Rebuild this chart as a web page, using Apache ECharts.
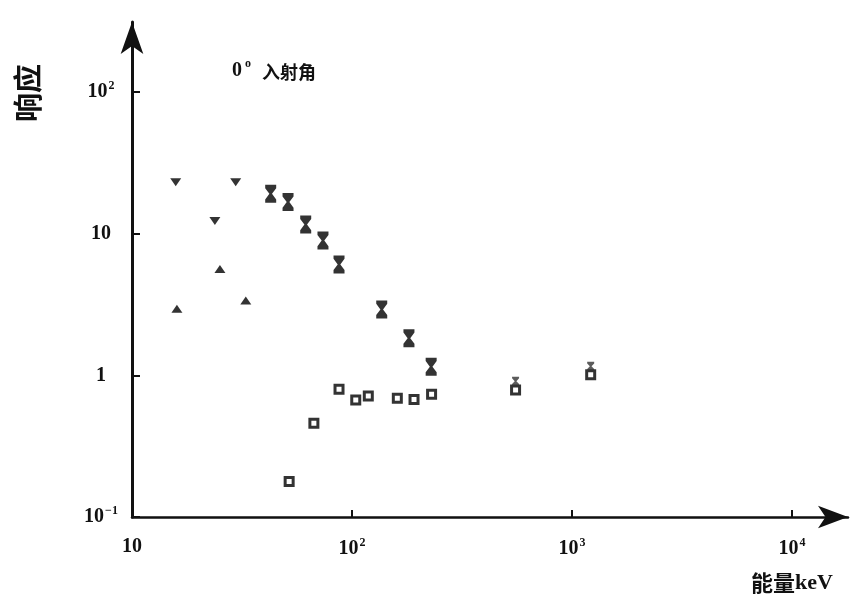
<!DOCTYPE html>
<html>
<head>
<meta charset="utf-8">
<script src="https://cdn.jsdelivr.net/npm/echarts@6/dist/echarts.min.js"></script>
<style>html,body{margin:0;padding:0;background:#fff}#c{width:850px;height:598px}</style>
</head>
<body>
<div id="c"></div>
<script>
var xTicks = [10, 100, 1000, 10000];
var yTicks = [0.1, 1, 10, 100];
var downTri = [[15.8, 23.1], [29.6, 23.1], [23.8, 12.3]];
var upTri = [[16.0, 2.95], [25.1, 5.64], [32.9, 3.37]];
var hourglass = [[42.7, 19.1], [51.2, 16.7], [61.6, 11.6], [73.8, 8.93], [87.3, 6.06], [136.5, 2.92], [181.5, 1.83], [229, 1.15]];
var smallHourglass = [[554, 0.91], [1216, 1.16]];
var squares = [[51.8, 0.178], [67.1, 0.459], [87.3, 0.797], [104, 0.67], [118.6, 0.715], [160.7, 0.69], [191.4, 0.674], [230, 0.734], [554, 0.789], [1216, 1.01]];

var serif = '"Liberation Serif", "DejaVu Serif", serif';
var cjk = '"Noto Sans CJK SC", sans-serif';
var hgPath = 'path://M0,0 L10,0 L10,3 L6.2,8 L10,13 L10,16 L0,16 L0,13 L3.8,8 L0,3 Z';

function powLabel(v) {
  var e = Math.round(Math.log(v) / Math.LN10);
  if (e === 0) return '{b|1}';
  if (e === 1) return '{b|10}';
  return '{b|10}{s|' + (e < 0 ? '\u2212' + (-e) : e) + '}';
}
var rich = {
  b: {fontFamily: serif, fontWeight: 'bold', fontSize: 20, color: '#111'},
  s: {fontFamily: serif, fontWeight: 'bold', fontSize: 12, color: '#111', verticalAlign: 'top', padding: [0, 0, 12, 1]}
};

var chart = echarts.init(document.getElementById('c'), null, {renderer: 'canvas'});
chart.setOption({
  backgroundColor: '#ffffff',
  animation: false,
  grid: {left: 132, right: 2, top: 22, bottom: 81, containLabel: false},
  xAxis: {
    type: 'log', logBase: 10, min: 10, max: Math.pow(10, 1 + 716 / 220),
    axisLine: {show: true, symbol: ['none', 'arrow'], symbolSize: [17, 30], lineStyle: {color: '#111', width: 2.5}},
    axisTick: {show: true, inside: true, length: 7, customValues: xTicks, lineStyle: {color: '#111', width: 2}},
    axisLabel: {show: true, margin: 20, customValues: xTicks, formatter: powLabel, rich: rich},
    splitLine: {show: false}, minorTick: {show: false}
  },
  yAxis: {
    type: 'log', logBase: 10, min: 0.1, max: Math.pow(10, 2 + 70 / 141.7),
    axisLine: {show: true, symbol: ['none', 'arrow'], symbolSize: [17, 32], lineStyle: {color: '#111', width: 3}},
    axisTick: {show: true, inside: true, length: 8, customValues: yTicks, lineStyle: {color: '#111', width: 2}},
    axisLabel: {show: true, margin: 31, align: 'center', customValues: yTicks, formatter: powLabel, rich: rich},
    splitLine: {show: false}, minorTick: {show: false}
  },
  series: [
    {type: 'scatter', name: 'down', data: downTri, symbol: 'triangle', symbolRotate: 180, symbolSize: [11, 8], itemStyle: {color: '#000'}},
    {type: 'scatter', name: 'up', data: upTri, symbol: 'triangle', symbolSize: [11, 8], itemStyle: {color: '#000'}},
    {type: 'scatter', name: 'hour', data: hourglass, symbol: hgPath, symbolSize: [11, 18], itemStyle: {color: '#000'}},
    {type: 'scatter', name: 'sq', data: squares, symbol: 'rect', symbolSize: [8, 8], itemStyle: {color: '#fff', borderColor: '#000', borderWidth: 3}},
    {type: 'scatter', name: 'hourSmall', data: smallHourglass, symbol: hgPath, symbolSize: [7, 9], itemStyle: {color: '#333'}}
  ],
  graphic: [
    {type: 'text', left: 13, top: 64, rotation: Math.PI / 2, style: {text: '响应', font: 'bold 29px ' + cjk, fill: '#111'}},
    {type: 'text', left: 232, top: 61, style: {text: '0', font: 'bold 20px ' + serif, fill: '#111'}},
    {type: 'text', left: 245, top: 58, style: {text: 'o', font: 'bold 12px ' + serif, fill: '#111'}},
    {type: 'text', left: 262, top: 63, style: {text: '入射角', font: 'bold 18px ' + cjk, fill: '#111'}},
    {type: 'text', left: 751, top: 572, style: {text: '{c|能量}{k|keV}', rich: {c: {font: 'bold 22px ' + cjk, fill: '#111'}, k: {font: 'bold 22px ' + serif, fill: '#111'}}}}
  ]
});
</script>
</body>
</html>
